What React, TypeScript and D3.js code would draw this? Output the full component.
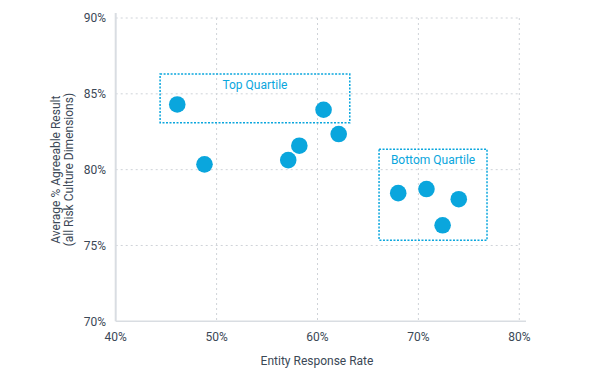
import React from "react";
import * as d3 from "d3";

const responseRate = [46.1, 48.8, 57.1, 58.2, 60.6, 62.1, 68.0, 70.8, 72.4, 74.0];
const agreeable = [84.3, 80.35, 80.63, 81.58, 83.95, 82.35, 78.45, 78.72, 76.33, 78.05];
const xTicks = [40, 50, 60, 70, 80];
const yTicks = [70, 75, 80, 85, 90];
const boxLabels = ["Top Quartile", "Bottom Quartile"];
const boxX0 = [44.4, 66.1];
const boxX1 = [63.2, 76.8];
const boxY0 = [86.3, 81.35];
const boxY1 = [83.1, 75.35];

const W = 600;
const H = 380;
const BLUE = "#0aa6dd";
const TEXT = "#3b4856";
const FONT = "Roboto, 'DejaVu Sans', sans-serif";

export default function App() {
  const x = d3.scaleLinear().domain([40, 80]).range([115.7, 519.3]);
  const y = d3.scaleLinear().domain([70, 90]).range([321.3, 18]);

  return (
    <svg
      width={W}
      height={H}
      style={{ position: "absolute", left: 0, top: 0, background: "#fff" }}
      fontFamily={FONT}
    >
      {/* grid */}
      {xTicks.slice(1).map((t) => (
        <line
          key={"gx" + t}
          x1={x(t)}
          x2={x(t)}
          y1={y(90)}
          y2={y(70)}
          stroke="#cfd3d8"
          strokeWidth={1}
          strokeDasharray="2,3"
        />
      ))}
      {yTicks.slice(1).map((t) => (
        <line
          key={"gy" + t}
          x1={x(40)}
          x2={x(80)}
          y1={y(t)}
          y2={y(t)}
          stroke="#cfd3d8"
          strokeWidth={1}
          strokeDasharray="2,3"
        />
      ))}
      {/* axes */}
      <line x1={x(40)} x2={x(40)} y1={13} y2={y(70)} stroke="#d9dde2" strokeWidth={2} />
      <line x1={x(40)} x2={526} y1={y(70)} y2={y(70)} stroke="#d9dde2" strokeWidth={1.5} />

      {/* tick labels */}
      {yTicks.map((t) => (
        <text
          key={"ty" + t}
          x={106}
          y={y(t)}
          dy="0.35em"
          textAnchor="end"
          fontSize={12}
          fill={TEXT}
        >
          {t}%
        </text>
      ))}
      {xTicks.map((t) => (
        <text key={"tx" + t} x={x(t)} y={341} textAnchor="middle" fontSize={12} fill={TEXT}>
          {t}%
        </text>
      ))}

      {/* axis titles */}
      <text x={317} y={365} textAnchor="middle" fontSize={12} fill={TEXT}>
        Entity Response Rate
      </text>
      <g transform={`translate(0, ${(y(90) + y(70)) / 2}) rotate(-90)`}>
        <text x={0} y={60} textAnchor="middle" fontSize={12} fill={TEXT}>
          Average % Agreeable Result
        </text>
        <text x={0} y={73} textAnchor="middle" fontSize={12} fill={TEXT}>
          (all Risk Culture Dimensions)
        </text>
      </g>

      {/* quartile boxes */}
      {boxLabels.map((lab, i) => (
        <g key={lab}>
          <rect
            x={x(boxX0[i])}
            y={y(boxY0[i])}
            width={x(boxX1[i]) - x(boxX0[i])}
            height={y(boxY1[i]) - y(boxY0[i])}
            fill="none"
            stroke={BLUE}
            strokeWidth={1.5}
            strokeDasharray="2,1.5"
          />
          <text
            x={(x(boxX0[i]) + x(boxX1[i])) / 2}
            y={y(boxY0[i]) + 15}
            textAnchor="middle"
            fontSize={12}
            fill={BLUE}
          >
            {lab}
          </text>
        </g>
      ))}

      {/* points */}
      {responseRate.map((v, i) => (
        <circle key={"p" + i} cx={x(v)} cy={y(agreeable[i])} r={8.3} fill={BLUE} />
      ))}
    </svg>
  );
}
